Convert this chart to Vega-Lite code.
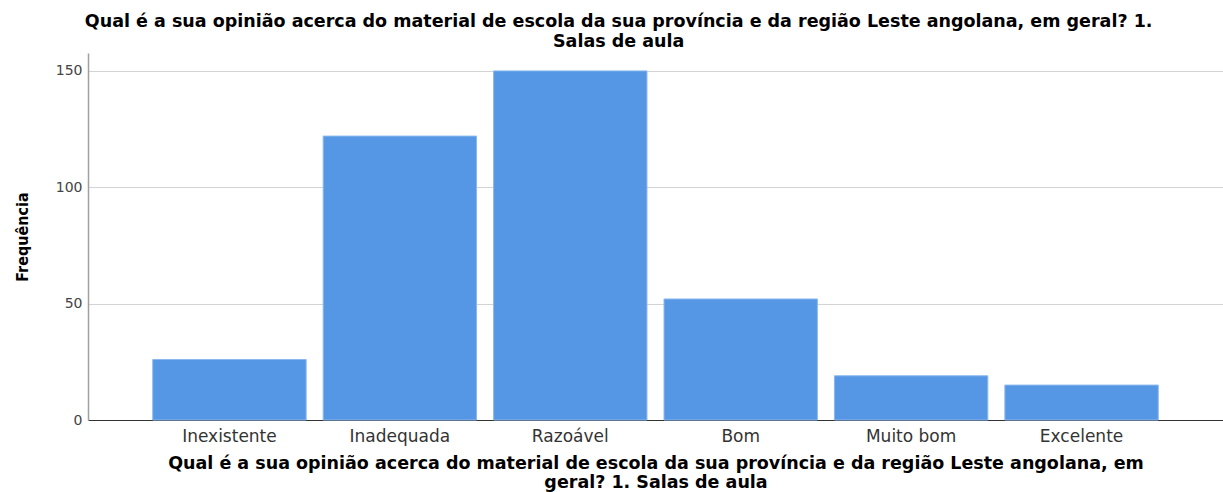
{
  "$schema": "https://vega.github.io/schema/vega-lite/v6.json",
  "width": 1135,
  "height": 367,
  "autosize": {"type": "none"},
  "padding": {"left": 88, "top": 53, "right": 0, "bottom": 72},
  "background": "white",
  "title": {
    "text": ["Qual é a sua opinião acerca do material de escola da sua província e da região Leste angolana, em geral? 1.", "Salas de aula"],
    "font": "DejaVu Sans",
    "fontSize": 17.5,
    "fontWeight": "bold",
    "lineHeight": 20,
    "anchor": "middle",
    "frame": "bounds",
    "offset": 3,
    "color": "black"
  },
  "data": {
    "values": [
      {"categoria": "Inexistente", "frequencia": 26},
      {"categoria": "Inadequada", "frequencia": 122},
      {"categoria": "Razoável", "frequencia": 150},
      {"categoria": "Bom", "frequencia": 52},
      {"categoria": "Muito bom", "frequencia": 19},
      {"categoria": "Excelente", "frequencia": 15}
    ]
  },
  "mark": {"type": "bar", "color": "#5596e5", "stroke": "#8ab8ee", "strokeWidth": 1},
  "encoding": {
    "x": {
      "field": "categoria",
      "type": "nominal",
      "sort": null,
      "scale": {"paddingInner": 0.1, "paddingOuter": 0.38},
      "axis": {
        "title": ["Qual é a sua opinião acerca do material de escola da sua província e da região Leste angolana, em", "geral? 1. Salas de aula"],
        "labelAngle": 0,
        "ticks": false,
        "labelPadding": 8,
        "labelFont": "DejaVu Sans",
        "labelFontSize": 17,
        "labelColor": "#333333",
        "domainColor": "#333333",
        "domainWidth": 1.2,
        "titleFont": "DejaVu Sans",
        "titleFontSize": 17.5,
        "titleFontWeight": "bold",
        "titleLineHeight": 19,
        "titlePadding": 10,
        "titleColor": "black",
        "grid": false
      }
    },
    "y": {
      "field": "frequencia",
      "type": "quantitative",
      "scale": {"domain": [0, 157.7], "nice": false},
      "axis": {
        "values": [0, 50, 100, 150],
        "title": "Frequência",
        "titleFont": "DejaVu Sans Condensed",
        "titleFontSize": 16,
        "titleFontWeight": "bold",
        "titleColor": "black",
        "titlePadding": 25,
        "labelFont": "DejaVu Sans",
        "labelFontSize": 14,
        "labelColor": "#444444",
        "labelPadding": 6,
        "ticks": false,
        "grid": true,
        "gridColor": "#d4d4d4",
        "domainColor": "#a0a0a0",
        "domainWidth": 1.5
      }
    }
  },
  "config": {"view": {"stroke": null}}
}
